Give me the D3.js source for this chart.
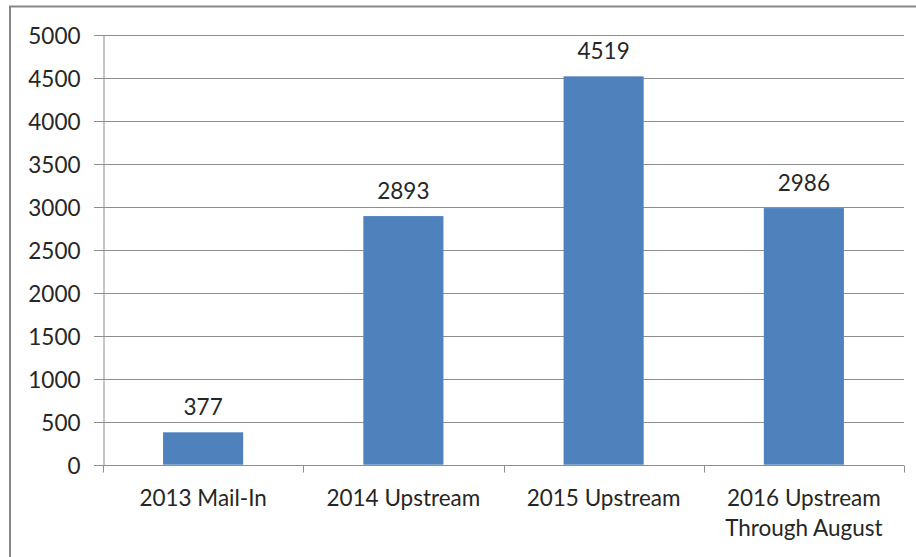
<!DOCTYPE html>
<html>
<head>
<meta charset="utf-8">
<script src="https://cdn.jsdelivr.net/npm/d3@7"></script>
<style>
  html, body { margin: 0; padding: 0; background: #fff; }
  svg { display: block; }
  text { font-family: Lato, "Open Sans", sans-serif; fill: #262626; }
</style>
</head>
<body>
<svg id="chart" width="916" height="557"></svg>
<script>
const categories = ["2013 Mail-In", "2014 Upstream", "2015 Upstream", "2016 Upstream\nThrough August"];
const values = [377, 2893, 4519, 2986];
const yTicks = [0, 500, 1000, 1500, 2000, 2500, 3000, 3500, 4000, 4500, 5000];

const svg = d3.select("#chart");
const FS = "22.5px";

// outer border
svg.append("rect")
  .attr("x", 10).attr("y", 6.5)
  .attr("width", 940).attr("height", 600)
  .attr("fill", "none").attr("stroke", "#878787").attr("stroke-width", 2);

const x = d3.scaleBand()
  .domain(categories)
  .range([103, 904])
  .paddingInner(0.6)
  .paddingOuter(0.3);

const y = d3.scaleLinear()
  .domain([0, 5000])
  .range([464.7, 35]);

// gridlines
svg.append("g")
  .selectAll("line")
  .data(yTicks)
  .join("line")
  .attr("x1", 94).attr("x2", 904)
  .attr("y1", d => Math.round(y(d)) + 0.5)
  .attr("y2", d => Math.round(y(d)) + 0.5)
  .attr("stroke", "#8e8e8e").attr("stroke-width", 1);

// y axis
const yAxis = d3.axisLeft(y).tickValues(yTicks).tickSize(0).tickPadding(0).tickFormat(d3.format("d"));
const gy = svg.append("g").attr("transform", "translate(103.5,0.5)").call(yAxis);
gy.select(".domain").attr("stroke", "#8e8e8e");
gy.selectAll("text")
  .attr("x", -23)
  .attr("dy", "0.36em")
  .style("font-size", FS)
  .style("fill", "#262626");

// x axis
const xAxis = d3.axisBottom(x).tickSize(0).tickFormat("");
const gx = svg.append("g").attr("transform", `translate(0,${Math.round(y(0)) + 0.5})`).call(xAxis);
gx.select(".domain").attr("stroke", "#8e8e8e").attr("d", "M94,0H904");
gx.selectAll(".tick").remove();

// x ticks at band boundaries
const boundaries = [0, 1, 2, 3, 4].map(i => 103 + i * (904 - 103) / 4);
svg.append("g")
  .selectAll("line")
  .data(boundaries)
  .join("line")
  .attr("x1", d => Math.round(d) + 0.5).attr("x2", d => Math.round(d) + 0.5)
  .attr("y1", Math.round(y(0)) + 0.5).attr("y2", Math.round(y(0)) + 7.5)
  .attr("stroke", "#8e8e8e");

// category labels
const catG = svg.append("g");
categories.forEach(c => {
  const lines = c.split("\n");
  const t = catG.append("text")
    .attr("text-anchor", "middle")
    .attr("x", x(c) + x.bandwidth() / 2)
    .attr("y", 506)
    .style("font-size", FS);
  lines.forEach((l, i) => {
    t.append("tspan")
      .attr("x", x(c) + x.bandwidth() / 2)
      .attr("dy", i === 0 ? 0 : 30)
      .text(l);
  });
});

// bars
svg.append("g")
  .selectAll("rect")
  .data(values)
  .join("rect")
  .attr("x", (d, i) => x(categories[i]))
  .attr("width", x.bandwidth())
  .attr("y", d => y(d))
  .attr("height", d => y(0) - y(d))
  .attr("fill", "#4f81bd");

// value labels
svg.append("g")
  .selectAll("text")
  .data(values)
  .join("text")
  .attr("text-anchor", "middle")
  .attr("x", (d, i) => x(categories[i]) + x.bandwidth() / 2)
  .attr("y", d => y(d) - 17)
  .style("font-size", FS)
  .text(d => d);
</script>
</body>
</html>
